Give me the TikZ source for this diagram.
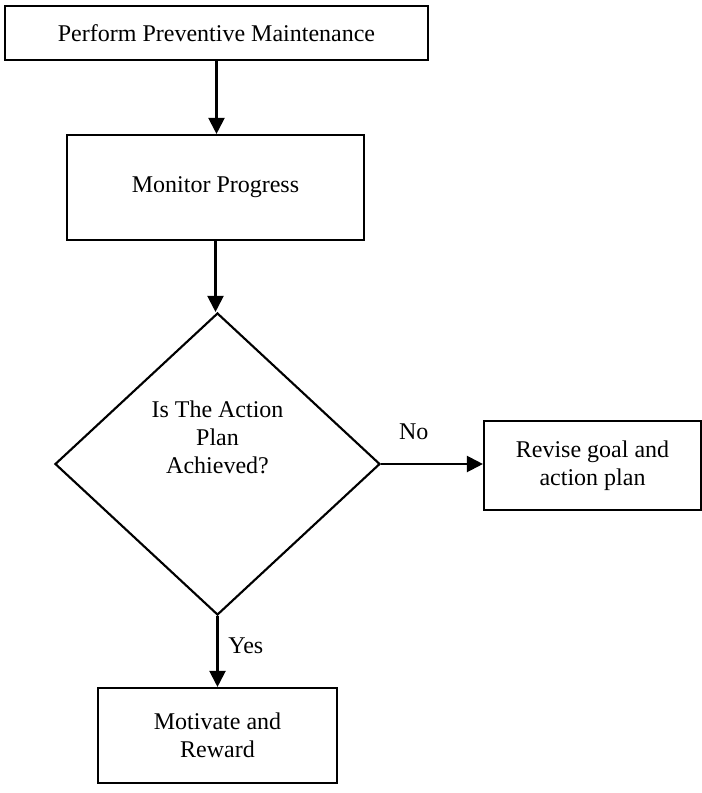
\documentclass[tikz,border=0pt]{standalone}
\usepackage{fontspec}
\setmainfont{Liberation Serif}
\usetikzlibrary{shapes.geometric}
\usetikzlibrary{arrows.meta}
\usetikzlibrary{positioning}

\tikzset{
  stepbox/.style={draw=black,line width=1.6pt,rectangle,align=center,font=\fontsize{18}{21}\selectfont},
  flowarrow/.style={draw=black,line width=1.6pt,-{Triangle[length=12pt,width=12pt]}},
  edgetext/.style={font=\fontsize{18}{21}\selectfont}
}

\begin{document}
\begin{tikzpicture}[x=0.75pt,y=-0.75pt]
\useasboundingbox (0,0) rectangle (702,793);

\node[stepbox,minimum width=317pt,minimum height=40.5pt] (perform) at (216.5,33) {Perform Preventive Maintenance};
\node[stepbox,minimum width=222.75pt,minimum height=78.75pt] (monitor) at (215.5,187.5) {Monitor Progress};
\node[draw=black,line width=1.6pt,diamond,minimum width=243.75pt,minimum height=226.5pt,inner sep=0pt] (check) at (217.5,464) {};
\node[edgetext,align=center] (checktext) at (217.5,437) {Is The Action\\Plan\\Achieved?};
\node[stepbox,minimum width=162.75pt,minimum height=66.75pt] (revise) at (592.5,465.5) {Revise goal and\\action plan};
\node[stepbox,minimum width=179.25pt,minimum height=71.25pt] (reward) at (217.5,735.5) {Motivate and\\Reward};

\draw[flowarrow] (perform.south) -- (perform.south |- monitor.north);
\draw[flowarrow] (monitor.south) -- (monitor.south |- check.north);
\draw[flowarrow] (check.east) -- (check.east -| revise.west) node[edgetext,pos=0.32,above=14pt] {No};
\draw[flowarrow] (check.south) -- (check.south |- reward.north) node[edgetext,pos=0.42,right=4pt] {Yes};

\end{tikzpicture}
\end{document}
